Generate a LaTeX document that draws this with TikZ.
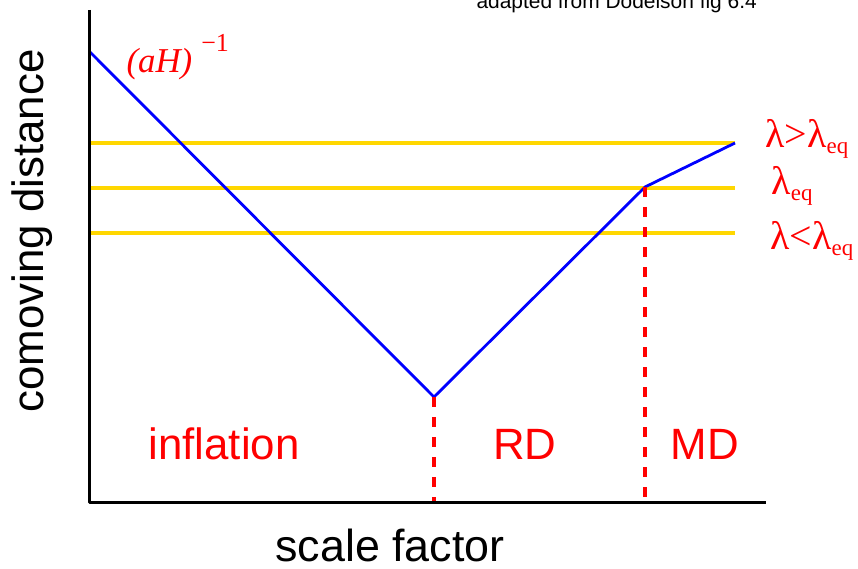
\documentclass[tikz,border=0pt]{standalone}
\usepackage{fontspec}
\setmainfont{Liberation Sans}
\newfontfamily\serifrm{Liberation Serif}

\definecolor{modeyellow}{RGB}{255,215,0}

\begin{document}
\begin{tikzpicture}[x=1bp, y=-1bp, line join=round,
	axisline/.style={line width=3bp},
	horizon/.style={blue, line width=2.8bp},
	mode/.style={modeyellow, line width=3.2bp},
	boundary/.style={red, line width=3.2bp, dash pattern=on 10bp off 10bp},
	era/.style={red, anchor=base, font=\fontsize{44}{44}\selectfont},
	wavelab/.style={red, anchor=base west, font=\serifrm\fontsize{40}{40}\selectfont}]
	\useasboundingbox (0,0) rectangle (858,569);
	\newcommand{\eqsub}{\raisebox{-6bp}{\fontsize{23}{23}\selectfont eq}}
	
	\coordinate (O) at (89,502);
	\coordinate (ytop) at (89,10);
	\coordinate (xend) at (766,502);
	\coordinate (start) at (90,52);
	\coordinate (bounce) at (434,397);
	\coordinate (equal) at (645,187);
	\coordinate (end) at (735,143);
	\coordinate (bounce0) at (434,502);
	\coordinate (equal0) at (645,502);
	
	% modes of fixed comoving size
	\foreach \n/\y in {big/143, eq/188, small/233} {
		\coordinate (\n L) at (90,\y);
		\coordinate (\n R) at (735,\y);
		\draw[mode] (\n L)--(\n R);
	}
	
	\draw[horizon] (start)--(bounce)--(equal)--(end);
	\draw[boundary] (bounce)--(bounce0);
	\draw[boundary] (equal)--(equal0);
	\draw[axisline] (ytop)--(O)--(xend);
	
	\node[era] (infl) at (224,459) {inflation};
	\node[era] (rd) at (525,459) {RD};
	\node[era] (md) at (705,459) {MD};
	
	\node[anchor=base, font=\fontsize{45}{45}\selectfont] (xlab) at (390,561) {scale factor};
	\node[anchor=base, rotate=90, font=\fontsize{44}{44}\selectfont] (ylab) at (43,231) {comoving distance};
	\node[anchor=base west, font=\fontsize{21}{21}\selectfont] (credit) at (473,9) {adapted from Dodelson fig 6.4};
	
	\node[red, anchor=base west, font=\serifrm\fontsize{35}{35}\selectfont] (hubble) at (123,73)
		{\itshape(aH)\upshape\hspace{9bp}\raisebox{21bp}{\fontsize{26}{26}\selectfont −1}};
	
	\node[wavelab] (lbig) at (762,148) {λ>λ\eqsub};
	\node[wavelab] (leq) at (768,195) {λ\eqsub};
	\node[wavelab] (lsmall) at (767,250) {λ<λ\eqsub};
\end{tikzpicture}
\end{document}
